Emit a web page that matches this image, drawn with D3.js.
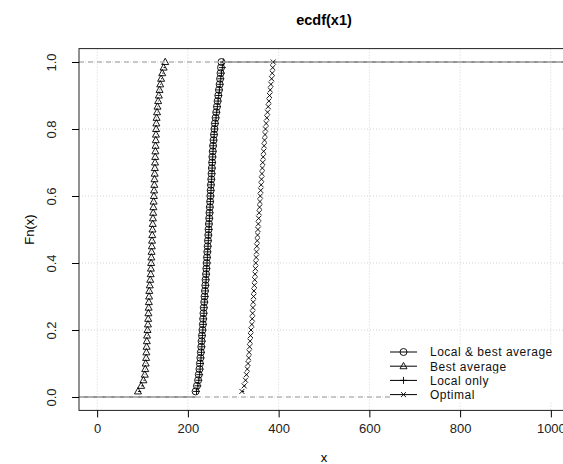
<!DOCTYPE html>
<html>
<head>
<meta charset="utf-8">
<script src="https://cdn.jsdelivr.net/npm/d3@7"></script>
<style>
body { margin: 0; background: #fff; }
svg { display: block; font-family: "Liberation Sans", Arial, sans-serif; }
</style>
</head>
<body>
<svg width="563" height="464"></svg>
<script>
// sorted samples, one array per series
var localBest = [217, 220, 222.5, 224, 225.5, 226.5, 227.5, 228.5, 229.5, 230.2, 231, 232, 233, 233.6, 234.4, 235, 236, 236.8, 237.6, 238.4,
    239, 240, 240.7, 241.4, 242, 242.8, 243.5, 244.2, 245, 245.6, 246.3, 247, 247.7, 248.3, 249, 249.6, 250.2, 250.8, 251.5, 252.2,
    252.8, 253.4, 254, 254.8, 255.5, 256.5, 257.5, 258.5, 259.5, 261, 262.5, 264, 265.5, 267, 268.5, 270, 271, 272, 273, 274];
var bestAvg = [90, 97, 102, 105, 106, 107, 108, 108.5, 109, 109.5, 110, 111, 112, 112.5, 113, 113.5, 114, 114.5, 115, 116,
    117, 118, 118.5, 119, 119.5, 120, 120.5, 121, 121.5, 122, 122.5, 123, 123.5, 124, 124.5, 125, 125.5, 126, 126.4, 126.8,
    127.2, 127.6, 128, 128.4, 128.8, 129.2, 129.6, 130, 130.5, 131, 132, 133, 134.5, 136, 137.5, 139, 141, 143.5, 146.5, 150];
var localOnly = [219, 222, 224, 226, 227, 228, 229, 230, 230.8, 231.5, 232, 233, 234, 234.8, 235.5, 236, 237, 238, 238.8, 239.5,
    240.2, 241, 241.6, 242.3, 243, 243.7, 244.4, 245, 245.8, 246.5, 247, 247.8, 248.5, 249, 249.7, 250.4, 251, 251.6, 252.3, 253,
    253.6, 254.2, 254.8, 255.4, 256, 257, 258, 259, 260.5, 262, 263.5, 265, 266.5, 268, 269.5, 271, 272.5, 274, 276, 278];
var optimal = [319, 324, 327, 329, 331, 332.5, 334, 335, 336, 337, 338, 339, 341, 341.8, 342.5, 343.2, 344, 344.8, 345.5, 346.5,
    347.3, 348, 348.8, 349.6, 350.4, 351.2, 352, 352.8, 353.6, 354.4, 355.2, 356, 357, 358, 358.8, 359.6, 360.5, 361.4, 362.3, 363.2,
    364.1, 365, 366, 367, 368, 369, 370, 371, 372.5, 374, 375.5, 377, 378.5, 380, 381.5, 383, 384.5, 386, 387, 388];

var seriesNames = ['Local & best average', 'Best average', 'Local only', 'Optimal'];
var seriesShapes = ['circle', 'triangle', 'plus', 'cross'];
var seriesData = [localBest, bestAvg, localOnly, optimal];

var xTicks = [0, 200, 400, 600, 800, 1000];
var yTicks = [0, 0.2, 0.4, 0.6, 0.8, 1.0];

var svg = d3.select('svg');

var plot = {l: 79, r: 569, t: 48.6, b: 410.4};
var xScale = d3.scaleLinear().domain([-40, 1040]).range([plot.l, plot.r]);
var yScale = d3.scaleLinear().domain([-0.04, 1.04]).range([plot.b, plot.t]);

// grid
svg.append('g').selectAll('line').data(xTicks).enter().append('line')
    .attr('x1', function(d) { return xScale(d); }).attr('x2', function(d) { return xScale(d); })
    .attr('y1', plot.t).attr('y2', plot.b)
    .attr('stroke', '#d3d3d3').attr('stroke-dasharray', '1,2');
svg.append('g').selectAll('line').data(yTicks).enter().append('line')
    .attr('y1', function(d) { return yScale(d); }).attr('y2', function(d) { return yScale(d); })
    .attr('x1', plot.l).attr('x2', plot.r)
    .attr('stroke', '#d3d3d3').attr('stroke-dasharray', '1,2');

function symbolPath(shape, s) {
    if (shape == 'circle') return d3.symbol().type(d3.symbolCircle).size(Math.PI * s * s / 4)();
    if (shape == 'triangle') {
        var h = s * 0.9;
        return 'M0,' + (-h * 0.6) + 'L' + (s / 2) + ',' + (h * 0.4) + 'L' + (-s / 2) + ',' + (h * 0.4) + 'Z';
    }
    if (shape == 'plus') return 'M' + (-s / 2) + ',0H' + (s / 2) + 'M0,' + (-s / 2) + 'V' + (s / 2);
    var a = s * 0.36;
    return 'M' + (-a) + ',' + (-a) + 'L' + a + ',' + a + 'M' + (-a) + ',' + a + 'L' + a + ',' + (-a);
}

var curves = svg.append('g');
seriesData.forEach(function(vals, k) {
    var n = vals.length;
    var g = curves.append('g');
    // first series is the plot() call, it carries the flat tails
    if (k == 0) {
        g.append('line').attr('x1', plot.l).attr('x2', xScale(vals[0]))
            .attr('y1', yScale(0)).attr('y2', yScale(0)).attr('stroke', '#333');
        g.append('line').attr('x1', xScale(vals[n - 1])).attr('x2', plot.r)
            .attr('y1', yScale(1)).attr('y2', yScale(1)).attr('stroke', '#333');
    }
    var steps = d3.range(n - 1);
    g.selectAll('.step').data(steps).enter().append('line')
        .attr('x1', function(i) { return xScale(vals[i]); })
        .attr('x2', function(i) { return xScale(vals[i + 1]); })
        .attr('y1', function(i) { return yScale((i + 1) / n); })
        .attr('y2', function(i) { return yScale((i + 1) / n); })
        .attr('stroke', '#000');
    g.selectAll('.pt').data(vals).enter().append('path')
        .attr('d', symbolPath(seriesShapes[k], 7))
        .attr('transform', function(d, i) { return 'translate(' + xScale(d) + ',' + yScale((i + 1) / n) + ')'; })
        .attr('fill', 'none').attr('stroke', '#000').attr('stroke-width', 0.9);
});

// 0 and 1 reference lines
svg.append('g').selectAll('line').data([0, 1]).enter().append('line')
    .attr('y1', function(d) { return yScale(d); }).attr('y2', function(d) { return yScale(d); })
    .attr('x1', plot.l).attr('x2', plot.r)
    .attr('stroke', '#b8b8b8').attr('stroke-width', 1.6).attr('stroke-dasharray', '5,4');

// box
svg.append('rect').attr('x', plot.l).attr('y', plot.t)
    .attr('width', plot.r - plot.l).attr('height', plot.b - plot.t)
    .attr('fill', 'none').attr('stroke', '#222');

// axes
var xAxis = d3.axisBottom(xScale).tickValues(xTicks).tickSize(7).tickPadding(6).tickFormat(d3.format('d'));
var gx = svg.append('g').attr('transform', 'translate(0,' + plot.b + ')').call(xAxis);
gx.select('.domain').remove();
gx.selectAll('text').attr('font-size', 13).attr('fill', '#222').style('font-family', 'Liberation Sans, Arial, sans-serif');

var yAxis = d3.axisLeft(yScale).tickValues(yTicks).tickSize(7).tickFormat(d3.format('.1f'));
var gy = svg.append('g').attr('transform', 'translate(' + plot.l + ',0)').call(yAxis);
gy.select('.domain').remove();
gy.selectAll('text').remove();
gy.selectAll('.tick').append('text')
    .attr('transform', 'translate(-28,0)rotate(-90)')
    .attr('text-anchor', 'middle').attr('dy', '0.35em')
    .attr('font-size', 13).attr('fill', '#222')
    .text(function(d) { return d3.format('.1f')(d); });

// titles
svg.append('text').attr('x', (plot.l + plot.r) / 2).attr('y', 25)
    .attr('text-anchor', 'middle').attr('font-size', 14.5).attr('font-weight', 'bold').text('ecdf(x1)');
svg.append('text').attr('x', (plot.l + plot.r) / 2).attr('y', 462)
    .attr('text-anchor', 'middle').attr('font-size', 13).text('x');
svg.append('text').attr('transform', 'translate(34,' + ((plot.t + plot.b) / 2) + ')rotate(-90)')
    .attr('text-anchor', 'middle').attr('font-size', 13).text('Fn(x)');

// legend
var legend = svg.append('g').selectAll('g').data(seriesNames).enter().append('g')
    .attr('transform', function(d, i) { return 'translate(390,' + (352 + i * 14.2) + ')'; });
legend.append('rect').attr('x', 0).attr('y', -7).attr('width', 175).attr('height', 14.2).attr('fill', '#fff');
legend.append('line').attr('x1', 0).attr('x2', 27).attr('stroke', '#000');
legend.append('path').attr('transform', 'translate(13.5,0)')
    .attr('d', function(d, i) { return symbolPath(seriesShapes[i], 7); })
    .attr('fill', 'none').attr('stroke', '#000').attr('stroke-width', 0.9);
legend.append('text').attr('x', 40).attr('dy', '0.36em').attr('font-size', 12)
    .attr('letter-spacing', 0.5).attr('fill', '#111')
    .text(function(d) { return d; });
</script>
</body>
</html>
